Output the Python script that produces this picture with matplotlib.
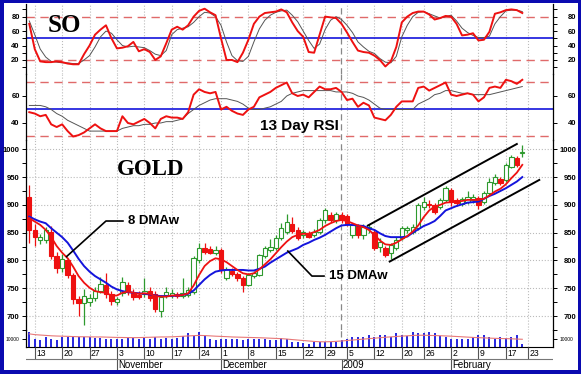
import matplotlib
matplotlib.use('Agg')
import matplotlib.pyplot as plt
import matplotlib.transforms as mt
from matplotlib.patches import Rectangle
import numpy as np

plt.rcParams['font.family'] = ['Liberation Sans', 'DejaVu Sans']

# trading days 10 Oct 2008 .. 20 Feb 2009, index 0..90
opens = [915, 855, 837, 837, 852, 808, 786, 800, 774, 731, 724, 726, 733, 746, 756, 739,
         726, 741, 756, 741, 738, 740, 746, 740, 710, 738, 738, 740, 737, 738, 744, 801,
         822, 821, 814, 819, 768, 782, 776, 768, 756, 772, 774, 808, 819, 822, 840, 852,
         866, 854, 846, 849, 846, 852, 873, 882, 873, 882, 880, 846, 862, 845, 856, 852,
         825, 822, 813, 822, 840, 854, 852, 858, 897, 902, 900, 897, 909, 927, 909, 902,
         906, 909, 912, 906, 921, 939, 946, 945, 969, 984, 994]
highs = [936, 866, 848, 860, 862, 815, 812, 805, 778, 737, 748, 740, 752, 770, 778, 746,
         735, 770, 762, 748, 745, 768, 752, 745, 738, 752, 748, 744, 768, 752, 808, 831,
         832, 826, 826, 822, 788, 786, 780, 772, 778, 782, 812, 826, 838, 845, 867, 884,
         879, 860, 855, 853, 856, 876, 894, 888, 887, 888, 884, 868, 866, 866, 866, 856,
         840, 826, 832, 842, 862, 862, 866, 903, 914, 908, 904, 912, 934, 930, 912, 914,
         925, 920, 916, 925, 948, 956, 950, 975, 990, 988, 1008]
lows = [831, 826, 829, 832, 803, 778, 780, 768, 722, 700, 684, 718, 727, 741, 733, 720,
        720, 736, 738, 729, 730, 735, 728, 708, 699, 733, 732, 733, 733, 735, 740, 796,
        812, 811, 810, 777, 765, 772, 764, 744, 754, 768, 772, 804, 815, 818, 836, 848,
        850, 836, 840, 840, 842, 848, 868, 870, 868, 868, 862, 840, 840, 838, 850, 818,
        815, 806, 803, 818, 836, 850, 848, 855, 890, 895, 884, 892, 905, 898, 898, 898,
        902, 904, 893, 902, 918, 935, 936, 942, 966, 968, 987]
closes = [855, 843, 842, 854, 808, 786, 802, 774, 731, 724, 737, 733, 745, 758, 739, 727,
          730, 762, 744, 735, 735, 746, 732, 712, 735, 744, 741, 737, 742, 747, 804, 822,
          816, 814, 819, 783, 784, 776, 768, 756, 774, 778, 810, 822, 825, 840, 858, 870,
          853, 840, 851, 843, 852, 872, 890, 873, 884, 872, 866, 864, 845, 860, 860, 822,
          834, 810, 828, 837, 858, 858, 861, 900, 906, 899, 887, 909, 930, 906, 903, 910,
          915, 915, 900, 921, 942, 951, 940, 972, 987, 972, 995]

ma8 = [876, 870, 864, 855, 842, 826, 814, 804, 789, 772, 760, 751, 745, 743, 742, 737,
       737, 742, 744, 742, 740, 741, 740, 736, 735, 735, 737, 737, 738, 741, 755, 774,
       790, 799, 804, 802, 797, 790, 783, 777, 775, 777, 784, 793, 802, 813, 824, 834,
       842, 846, 848, 848, 851, 855, 862, 867, 871, 873, 871, 867, 863, 860, 855, 846,
       836, 829, 828, 832, 838, 844, 852, 863, 878, 890, 897, 900, 904, 905, 906, 907,
       909, 909, 909, 911, 917, 924, 929, 937, 948, 958, 972]
ma15 = [879, 874, 870, 867, 858, 850, 842, 832, 818, 803, 790, 780, 772, 766, 760, 753,
        748, 745, 743, 742, 741, 740, 739, 737, 736, 736, 736, 737, 738, 740, 746, 756,
        766, 774, 780, 782, 783, 783, 783, 783, 782, 782, 785, 789, 796, 802, 808, 814,
        818, 822, 828, 832, 837, 841, 846, 852, 858, 863, 864, 864, 863, 862, 858, 855,
        849, 844, 842, 842, 842, 843, 850, 856, 862, 866, 871, 880, 890, 894, 898, 901,
        904, 905, 906, 911, 916, 920, 925, 930, 936, 942, 950]

so_k = [70, 35, 18, 17, 17, 18, 17, 15, 14, 14, 28, 40, 55, 62, 68, 50,
        36, 37, 39, 45, 32, 35, 31, 20, 25, 43, 62, 66, 62, 68, 80, 88,
        91, 86, 82, 50, 20, 20, 17, 30, 48, 70, 80, 85, 86, 87, 90, 86,
        72, 60, 52, 31, 30, 55, 80, 79, 78, 70, 58, 45, 33, 31, 30, 26,
        20, 11, 18, 38, 72, 80, 85, 87, 87, 83, 76, 78, 81, 80, 70, 54,
        55, 57, 47, 48, 59, 84, 86, 89, 90, 89, 85]
so_d = [74, 55, 35, 24, 18, 17, 16, 16, 15, 15, 20, 26, 38, 52, 60, 57,
        48, 40, 38, 39, 38, 37, 33, 28, 26, 33, 55, 62, 64, 66, 72, 80,
        86, 85, 80, 68, 45, 26, 19, 18, 25, 45, 63, 75, 82, 86, 88, 89,
        82, 73, 60, 47, 36, 42, 62, 75, 80, 76, 68, 58, 45, 38, 32, 29,
        22, 17, 16, 25, 52, 68, 80, 86, 87, 84, 81, 78, 80, 82, 74, 64,
        58, 54, 51, 51, 53, 70, 80, 88, 89, 89, 87]

rsi = [48, 47, 45, 46, 39, 37, 39, 34, 30, 31, 33, 36, 39, 36, 34, 34,
       34, 45, 40, 39, 41, 43, 40, 36, 43, 45, 44, 44, 43, 48, 61, 65,
       63, 62, 63, 50, 52, 49, 47, 46, 50, 52, 59, 61, 63, 66, 68, 70,
       62, 60, 61, 59, 63, 67, 65, 65, 66, 63, 57, 58, 52, 55, 53, 44,
       43, 42, 46, 52, 56, 56, 56, 66, 67, 64, 66, 68, 70, 61, 60, 61,
       62, 61, 56, 59, 66, 67, 66, 72, 71, 69, 72]
rsi_avg = [53, 53, 53, 52, 50, 47, 45, 42, 40, 38, 36, 34, 34, 34, 34, 34,
           34, 36, 37, 38, 38, 39, 39, 40, 40, 41, 41, 42, 43, 47, 50, 53,
           55, 57, 58, 58, 58, 57, 56, 54, 51, 50, 50, 51, 52, 54, 56, 60,
           62, 63, 64, 64, 64, 64, 64, 64, 63, 63, 63, 62, 60, 59, 57, 54,
           51, 50, 50, 50, 50, 50, 50, 54, 56, 58, 61, 62, 64, 64, 63, 62,
           62, 61, 61, 61, 61, 62, 63, 64, 65, 66, 67]

volume = [19000, 11000, 9500, 12500, 11000, 8500, 12500, 12500, 12500, 12500, 12500, 12500,
          12000, 12000, 11000, 11000, 10500, 11000, 11500, 11500, 11000, 12000, 11000, 12500,
          11000, 11500, 11000, 12000, 14500, 17500, 14500, 20000, 14000, 10000, 8500, 11000,
          10500, 10000, 10500, 9000, 10000, 10500, 10500, 10000, 9500, 9500, 11500, 10000,
          6000, 6000, 5000, 4000, 6000, 6500, 6000, 6500, 6500, 9000, 10500, 13000,
          13000, 13000, 15000, 13000, 15000, 15000, 13000, 17500, 15000, 14000, 19500, 18500,
          17500, 19500, 18500, 14000, 13000, 11000, 10000, 11000, 11000, 13000, 15000, 15000,
          13000, 10000, 13000, 12000, 13000, 15000, 4500]
volume_ma = [17000, 16000, 15500, 15000, 14500, 14200, 14000, 13800, 13500, 13300, 13200, 13100,
             13000, 13000, 12800, 12600, 12400, 12300, 12200, 12100, 12200, 12400, 12600, 12800,
             13000, 13000, 13200, 13500, 13900, 14300, 14700, 15000, 14800, 14400, 14000, 13700,
             13400, 13000, 12800, 12600, 12400, 12200, 12000, 11700, 11400, 11100, 10800, 10300,
             9600, 9000, 8400, 7800, 7200, 6800, 6700, 6900, 7300, 7800, 8400, 9000,
             9600, 10200, 10800, 11400, 12000, 12600, 13100, 13600, 14100, 14500, 14900, 15200,
             15200, 15000, 14800, 14600, 14300, 14000, 13600, 13200, 12800, 12400, 12100, 11800,
             11500, 11200, 11000, 10800, 10600, 10300, 10000]

day_ticks = [1, 6, 11, 16, 21, 26, 31, 35, 40, 45, 50, 54, 58, 63, 68, 72, 77, 82, 87, 91]
day_labels = ['13', '20', '27', '3', '10', '17', '24', '1', '8', '15', '22', '29',
              '5', '12', '20', '26', '2', '9', '17', '23']
month_ticks = [16, 35, 57, 77]
month_labels = ['November', 'December', '2009', 'February']
year_break = 56.9

# trend channel (index, price)
channel_upper = [(61.8, 862.8), (89.0, 1009.5)]
channel_lower = [(65.8, 798.1), (93.1, 944.9)]
# leader lines for the labels (index, price): text anchor, elbow, end
lead8 = [(18.0, 871), (14.0, 871), (6.8, 807)]
lead15 = [(54.7, 772), (51.6, 772), (47.2, 817)]

W, H = 581, 374
L, R = 26, 552.7
BORDER = '#0A0AB0'
RED = '#EE1111'
BLUE = '#1414DC'
GREEN = '#2E9A2E'
PINK = '#E06A6A'

x = np.arange(len(closes))

fig = plt.figure(figsize=(W / 100, H / 100), dpi=100)
fig.patch.set_facecolor(BORDER)
fig.add_artist(Rectangle((4 / W, 4 / H), 574 / W, 367 / H, transform=fig.transFigure,
                         facecolor='white', edgecolor='none', zorder=-5))


def panel(top, bot):
    ax = fig.add_axes([L / W, 1 - bot / H, (R - L) / W, (bot - top) / H])
    ax.set_facecolor('none')
    ax.set_xlim(-0.6, 95.55)
    ax.set_xticks(day_ticks)
    ax.tick_params(axis='x', length=0, labelbottom=False)
    ax.grid(axis='x', linestyle=':', color='#BBBBBB', linewidth=0.8)
    for s in ['top', 'bottom']:
        ax.spines[s].set_visible(False)
    for s in ['left', 'right']:
        ax.spines[s].set_linewidth(0.9)
    ax.axvline(year_break, color='#888888', linestyle=(0, (5, 3)), linewidth=0.9)
    return ax


def ylabels(ax, ticks):
    ax.set_yticks(ticks)
    ax.tick_params(axis='y', which='both', direction='out', left=True, right=True,
                   labelleft=True, labelright=True, length=3, width=0.7)
    ax.tick_params(axis='y', which='major', labelsize=5.5, pad=1.5)
    # right labels end close to the blue frame
    shift = mt.ScaledTranslation(24 / 100, 0, fig.dpi_scale_trans)
    for t in ax.yaxis.get_major_ticks():
        t.label1.set_fontweight('bold')
        t.label2.set_fontweight('bold')
        t.label2.set_horizontalalignment('right')
        t.label2.set_transform(ax.get_yaxis_transform(which='tick2') + shift)


def leader(ax, pts, label):
    ax.plot([pts[0][0] - 0.9, pts[1][0], pts[2][0]], [pts[0][1], pts[1][1], pts[2][1]],
            color='black', linewidth=1.2, zorder=5)
    ax.text(pts[0][0], pts[0][1], label, fontsize=9.5, fontweight='bold', va='center', ha='left')


# stochastic oscillator
ax_so = panel(4, 74.4)
ax_so.set_ylim(0, 97.5)
ax_so.axhline(80, color=PINK, linestyle=(0, (6, 4)), linewidth=1.0)
ax_so.axhline(20, color=PINK, linestyle=(0, (6, 4)), linewidth=1.0)
ax_so.axhline(50, color=BLUE, linewidth=1.2)
ax_so.plot(x, so_d, color='#555555', linewidth=0.7)
ax_so.plot(x, so_k, color=RED, linewidth=1.4)
ax_so.set_yticks([10, 30, 50, 70, 90], minor=True)
ylabels(ax_so, [20, 40, 60, 80])
ax_so.text(0.0418, 0.6065, 'SO', transform=ax_so.transAxes, fontsize=18, fontweight='bold',
           family='Liberation Serif', va='baseline')

# RSI
ax_rsi = panel(74.4, 140)
ax_rsi.set_ylim(27.4, 76)
ax_rsi.axhline(70, color=PINK, linestyle=(0, (6, 4)), linewidth=1.0)
ax_rsi.axhline(30, color=PINK, linestyle=(0, (6, 4)), linewidth=1.0)
ax_rsi.axhline(50, color=BLUE, linewidth=1.2)
ax_rsi.plot(x, rsi_avg, color='#555555', linewidth=0.7)
ax_rsi.plot(x, rsi, color=RED, linewidth=1.4)
ylabels(ax_rsi, [40, 60])
ax_rsi.text(0.4443, 0.152, '13 Day RSI', transform=ax_rsi.transAxes, fontsize=11,
            fontweight='bold', va='baseline')

# gold price candles
ax_g = panel(140, 330)
ax_g.set_ylim(675.5, 1016.7)
ax_g.grid(axis='y', linestyle=':', color='#BBBBBB', linewidth=0.8)
o = np.array(opens)
c = np.array(closes)
up = c >= o
wick_col = [GREEN if u else RED for u in up]
ax_g.vlines(x, lows, highs, colors=wick_col, linewidth=0.9, zorder=2)
body_lo = np.minimum(o, c)
body_h = np.maximum(np.abs(c - o), 1.2)
ax_g.bar(x[up], body_h[up], bottom=body_lo[up], width=0.8, facecolor='white',
         edgecolor=GREEN, linewidth=0.8, zorder=3)
ax_g.bar(x[~up], body_h[~up], bottom=body_lo[~up], width=0.8, facecolor=RED,
         edgecolor=RED, linewidth=0.8, zorder=3)
ax_g.plot(x, ma15, color=BLUE, linewidth=1.4, zorder=4)
ax_g.plot(x, ma8, color=RED, linewidth=1.3, zorder=4)
for line in (channel_upper, channel_lower):
    ax_g.plot([p[0] for p in line], [p[1] for p in line], color='black', linewidth=1.4, zorder=4)
leader(ax_g, lead8, '8 DMAw')
leader(ax_g, lead15, '15 DMAw')
ax_g.set_yticks(np.arange(675, 1016, 25), minor=True)
ylabels(ax_g, [700, 750, 800, 850, 900, 950, 1000])
ax_g.text(0.1728, 0.8158, 'GOLD', transform=ax_g.transAxes, fontsize=16.5, fontweight='bold',
          family='Liberation Serif', va='baseline')

# volume
ax_v = panel(330, 347)
ax_v.set_ylim(0, 22000)
ax_v.spines['bottom'].set_visible(True)
ax_v.spines['bottom'].set_linewidth(0.8)
ax_v.vlines(x, 0, volume, colors=BLUE, linewidth=1.3)
ax_v.plot(x, volume_ma, color='#E87878', linewidth=0.8)
ax_v.set_yticks([10000])
ax_v.tick_params(axis='y', left=True, right=True, length=3, width=0.7, labelleft=False)
ax_v.text(-0.012, 10000, '10000', transform=ax_v.get_yaxis_transform(), fontsize=3.5,
          ha='right', va='center')
ax_v.text(1.04, 10000, '10000', transform=ax_v.get_yaxis_transform(), fontsize=3.5,
          ha='right', va='center')

# date rows
ax_d = fig.add_axes([L / W, 1 - 370 / H, (R - L) / W, 23 / H])
ax_d.set_xlim(-0.6, 95.55)
ax_d.set_ylim(0, 1)
ax_d.axis('off')
ax_d.vlines(day_ticks, 0.46, 1.0, colors='#555555', linewidth=0.8)
ax_d.vlines(month_ticks, 0.0, 0.46, colors='#555555', linewidth=0.8)
ax_d.axhline(0.46, color='#777777', linewidth=0.8)
for t, lab in zip(day_ticks, day_labels):
    ax_d.text(t + 0.25, 0.73, lab, fontsize=6.2, ha='left', va='center')
for t, lab in zip(month_ticks, month_labels):
    ax_d.text(t + 0.25, 0.21, lab, fontsize=7, ha='left', va='center')

fig.savefig('out.png', dpi=100, facecolor=fig.get_facecolor())
